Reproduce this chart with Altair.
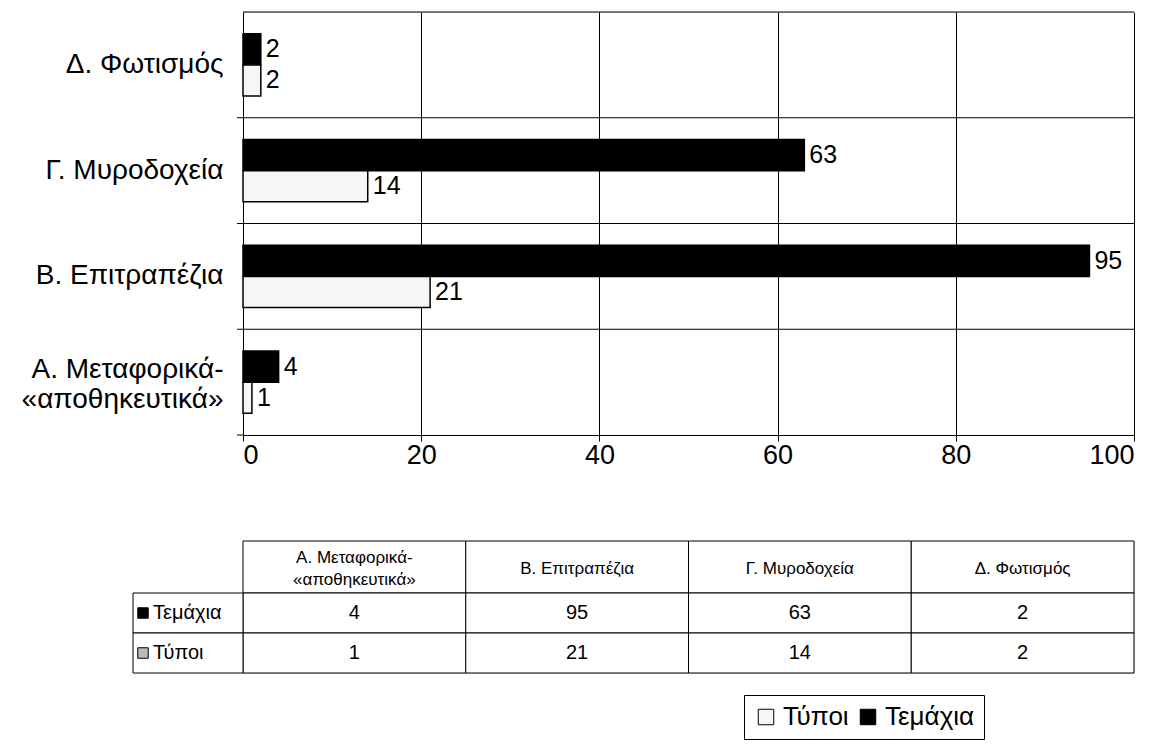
import altair as alt
import pandas as pd

categories = ["Α. Μεταφορικά-«αποθηκευτικά»", "Β. Επιτραπέζια", "Γ. Μυροδοχεία", "Δ. Φωτισμός"]
series = ["Τύποι", "Τεμάχια"]
temaxia = [4, 95, 63, 2]
typoi = [1, 21, 14, 2]
x_ticks = [0, 20, 40, 60, 80, 100]
row_names = ["Τεμάχια", "Τύποι"]

FONT = "Liberation Sans"
TFONT = "Liberation Sans Narrow, Arial Narrow, Liberation Sans"
W, H = 891, 423
MULTI = categories[0]

rows = []
for c, t, p in zip(categories, temaxia, typoi):
    rows.append({"cat": c, "series": "Τεμάχια", "value": t})
    rows.append({"cat": c, "series": "Τύποι", "value": p})
df = pd.DataFrame(rows)
y_order = categories[::-1]

color = alt.Color(
    "series:N",
    scale=alt.Scale(domain=series, range=["#f6f6f6", "#000000"]),
    legend=alt.Legend(
        title=None, orient="none", direction="horizontal", legendX=501, legendY=683,
        strokeColor="black", padding=9, labelFontSize=26, labelFont=FONT, labelColor="black",
        symbolType="square", symbolSize=240, symbolStrokeColor="black", symbolStrokeWidth=1,
        columnPadding=6, labelOffset=4, fillColor="white",
    ),
)

ybase = alt.Y(
    "cat:N", sort=y_order, scale=alt.Scale(paddingInner=0, paddingOuter=0),
    axis=alt.Axis(
        title=None, grid=False, ticks=False, domain=False, labelFontSize=28, labelFont=FONT,
        labelColor="black", labelPadding=20, labelLimit=400,
        labelExpr="split(replace(datum.label, '-«', '-|«'), '|')",
        labelOffset=alt.condition(f"datum.value == '{MULTI}'", alt.value(-12), alt.value(0)),
    ),
)
yoff = alt.YOffset("series:N", sort=["Τεμάχια", "Τύποι"],
                   scale=alt.Scale(paddingInner=0, paddingOuter=0.7))
xenc = alt.X(
    "value:Q", scale=alt.Scale(domain=[0, 100], nice=False),
    axis=alt.Axis(
        title=None, values=x_ticks, grid=True, gridColor="black", gridOpacity=1, gridWidth=1,
        tickColor="black", tickSize=6, domainColor="black", labelFontSize=27, labelFont=FONT,
        labelColor="black", labelPadding=1,
    ),
)

cat_df = pd.DataFrame({"cat": categories})
hgrid = alt.Chart(cat_df).mark_rule(color="black", strokeWidth=1).encode(
    y=alt.Y("cat:N", sort=y_order, bandPosition=0))
hticks = alt.Chart(cat_df).mark_rule(color="black", strokeWidth=1).encode(
    y=alt.Y("cat:N", sort=y_order, bandPosition=1), x=alt.value(-6), x2=alt.value(0))

bars = alt.Chart(df).mark_bar(stroke="black", strokeWidth=1.5).encode(
    y=ybase, yOffset=yoff, x=xenc, color=color)
labels = alt.Chart(df).mark_text(align="left", dx=5, fontSize=25, font=FONT, color="black").encode(
    y=alt.Y("cat:N", sort=y_order), yOffset=yoff, x="value:Q", text="value:Q")

top = alt.layer(hgrid, hticks, bars, labels).properties(width=W, height=H)

# ---- data table ----
ROW_TOP = [0, 52, 92]
ROW_BOT = [52, 92, 132]
cells = []
for c, t, p in zip(categories, temaxia, typoi):
    hdr = c.replace("-«", "-\n«")
    cells.append({"cat": c, "top": ROW_TOP[0], "bot": ROW_BOT[0], "txt": hdr, "nl": hdr.count("\n")})
    cells.append({"cat": c, "top": ROW_TOP[1], "bot": ROW_BOT[1], "txt": str(t), "nl": 0})
    cells.append({"cat": c, "top": ROW_TOP[2], "bot": ROW_BOT[2], "txt": str(p), "nl": 0})
cells_df = pd.DataFrame(cells)
yscale = alt.Scale(domain=[0, 132], reverse=True, nice=False, zero=False)
xt = alt.X("cat:N", sort=categories, scale=alt.Scale(paddingInner=0, paddingOuter=0), axis=None)
yt = alt.Y("top:Q", scale=yscale, axis=None)
ymid = alt.Y("mid:Q", scale=yscale, axis=None)

cell_rect = alt.Chart(cells_df).mark_rect(fill="white", stroke="black", strokeWidth=1).encode(
    x=xt, y=yt, y2="bot:Q")
hdr_txt = alt.Chart(cells_df).transform_filter("datum.top == 0").transform_calculate(
    mid="(datum.top + datum.bot) / 2 + 2 - datum.nl * 11"
).mark_text(
    fontSize=17, font=TFONT, color="black", lineBreak="\n", baseline="middle", lineHeight=22
).encode(x=xt, y=ymid, text="txt:N")
val_txt = alt.Chart(cells_df).transform_filter("datum.top > 0").transform_calculate(
    mid="(datum.top + datum.bot) / 2"
).mark_text(fontSize=20, font=TFONT, color="black", baseline="middle").encode(
    x=xt, y=ymid, text="txt:N")

rl_df = pd.DataFrame({"name": row_names, "top": ROW_TOP[1:], "bot": ROW_BOT[1:],
                      "fill": ["#000000", "#bbbbbb"]})
rl_rect = alt.Chart(rl_df).mark_rect(fill="white", stroke="black", strokeWidth=1).encode(
    x=alt.value(-110), x2=alt.value(0), y=yt, y2="bot:Q")
rl_mid = alt.Chart(rl_df).transform_calculate(mid="(datum.top + datum.bot) / 2")
rl_sym = rl_mid.mark_point(shape="square", size=110, filled=True, stroke="black", strokeWidth=1, opacity=1).encode(
    x=alt.value(-100), y=ymid, fill=alt.Fill("fill:N", scale=None))
rl_txt = rl_mid.mark_text(align="left", fontSize=20, font=TFONT, color="black", baseline="middle").encode(
    x=alt.value(-90), y=ymid, text="name:N")

table = alt.layer(cell_rect, hdr_txt, val_txt, rl_rect, rl_sym, rl_txt).properties(width=W, height=132)

chart = alt.vconcat(top, table, spacing=71).properties(
    padding={"left": 12, "top": 3, "right": 5, "bottom": 5}
).configure_view(stroke="black", strokeWidth=1).configure(font=FONT)

chart.save("out.html", embed_options={"renderer": "svg", "actions": False})
